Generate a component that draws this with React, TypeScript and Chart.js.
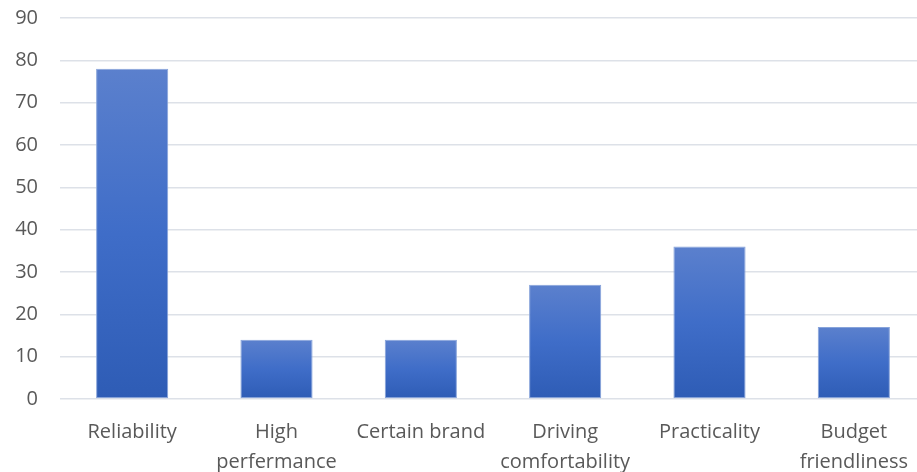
import React, { useEffect, useRef } from "react";
import { Chart, registerables } from "chart.js";

Chart.register(...registerables);

const categories: (string | string[])[] = [
  "Reliability",
  ["High", "perfermance"],
  "Certain brand",
  ["Driving", "comfortability"],
  "Practicality",
  ["Budget", "friendliness"],
];
const values: number[] = [78, 14, 14, 27, 36, 17];
const yMin = 0;
const yMax = 90;
const yStep = 10;

const TOP_COLOR = "#5b80cd";
const BOTTOM_COLOR = "#2e5cb5";
const TEXT_COLOR = "#595959";
const GRID_COLOR = "#dde1e8";
const FONT = "'Open Sans', sans-serif";

export default function App() {
  const canvasRef = useRef<HTMLCanvasElement | null>(null);

  useEffect(() => {
    const canvas = canvasRef.current;
    if (!canvas) return;
    const chart = new Chart(canvas, {
      type: "bar",
      data: {
        labels: categories,
        datasets: [
          {
            data: values,
            backgroundColor: (ctx: any) => {
              const ch = ctx.chart;
              if (ctx.type !== "data" || !ch.chartArea || !ch.scales.y) return BOTTOM_COLOR;
              const y = ch.scales.y;
              const top = y.getPixelForValue(ctx.raw as number);
              const base = y.getPixelForValue(0);
              if (!isFinite(top) || !isFinite(base) || top === base) return BOTTOM_COLOR;
              const g = ch.ctx.createLinearGradient(0, top, 0, base);
              g.addColorStop(0, TOP_COLOR);
              g.addColorStop(0.5, "#3f6dc8");
              g.addColorStop(1, BOTTOM_COLOR);
              return g;
            },
            borderColor: "#87a3da",
            borderWidth: 1,
            borderSkipped: false,
            barPercentage: 0.5,
            categoryPercentage: 1,
          },
        ],
      },
      options: {
        responsive: true,
        maintainAspectRatio: false,
        animation: false,
        layout: { padding: { top: 18, left: 0, right: 0, bottom: 0 } },
        plugins: {
          legend: { display: false },
          tooltip: { enabled: false },
        },
        scales: {
          x: {
            grid: { display: false, drawTicks: false },
            border: { display: false },
            ticks: {
              color: TEXT_COLOR,
              font: { family: FONT, size: 20, lineHeight: 1.5 },
              padding: 18,
              maxRotation: 0,
              autoSkip: false,
            },
            afterFit: (scale: any) => {
              scale.height = 73;
            },
          },
          y: {
            min: yMin,
            max: yMax,
            grid: { color: GRID_COLOR, lineWidth: 1.5, drawTicks: false },
            border: { display: false },
            ticks: {
              stepSize: yStep,
              color: TEXT_COLOR,
              font: { family: FONT, size: 20 },
              padding: 22,
            },
            afterFit: (scale: any) => {
              scale.width = 60;
              scale.paddingTop = 0;
              scale.paddingBottom = 0;
            },
          },
        },
      },
    });
    return () => chart.destroy();
  }, []);

  return (
    <div
      style={{
        position: "fixed",
        left: 0,
        top: 0,
        width: 926,
        height: 472,
        background: "#ffffff",
      }}
    >
      <canvas ref={canvasRef} />
    </div>
  );
}
